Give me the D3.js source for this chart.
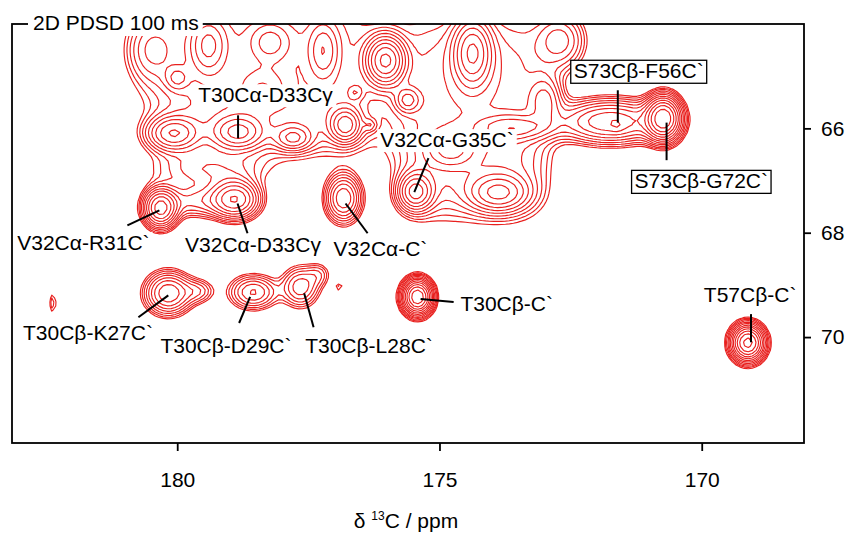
<!DOCTYPE html>
<html>
<head>
<meta charset="utf-8">
<script src="https://cdn.jsdelivr.net/npm/d3@7"></script>
<style>
  body { margin: 0; background: #fff; }
  text { font-family: "Liberation Sans", Arial, sans-serif; }
</style>
</head>
<body>
<div id="chart"></div>
<script>
// cross peaks
// F2 (horizontal) and F1 (vertical) shift in ppm, height in units of the lowest contour,
// half widths in ppm, shape 1 = gaussian, 2 = flat topped (broad overlapped regions)
const peakF2 = [
  180.32, 178.89, 179.60, 179.40, 176.83, 180.17, 179.60, 178.55, 177.65, 177.30,
  176.91, 175.42, 169.12, 182.37, 170.73, 171.74, 171.62,
  178.26, 174.37,
  180.08, 178.84, 180.00, 179.41, 178.23, 180.50, 178.38, 177.21, 176.03, 174.37,
  176.60, 175.61, 176.79, 177.79, 176.32, 173.59, 174.79, 172.69, 172.98,
  175.46, 173.87
];
const peakF1 = [
  67.53, 67.36, 67.40, 66.80, 67.34, 69.16, 69.12, 69.14, 69.04, 68.80,
  69.04, 69.23, 70.11, 69.35, 65.81, 65.87, 65.96,
  64.90, 65.70,
  66.10, 66.08, 65.04, 64.41, 64.35, 64.50, 65.23, 64.51, 64.70, 64.55,
  65.31, 65.46, 65.94, 66.19, 65.94, 65.98, 66.42, 64.32, 65.46,
  67.22, 67.24
];
const peakHeight = [
  12, 10, 3, 2.5, 8, 8, 2.5, 5, 4.5, 1.8,
  1.4, 23, 20, 1.7, 22, 8, 1.3,
  3.5, 3.5,
  7, 7, 3, 6, 4, 3, 3, 5, 18, 12,
  2.5, 5, 8, 5, 2, 5, 4, 4, 4,
  8, 7
];
const peakWidthF2 = [
  0.19, 0.27, 0.45, 0.70, 0.20, 0.26, 0.20, 0.28, 0.22, 0.15,
  0.07, 0.16, 0.18, 0.056, 0.19, 0.60, 0.07,
  1.85, 1.21,
  0.30, 0.30, 0.15, 0.22, 0.25, 0.30, 0.30, 0.18, 0.22, 0.22,
  0.10, 0.15, 0.18, 0.22, 0.08, 0.45, 0.30, 0.30, 0.20,
  0.20, 0.35
];
const peakWidthF1 = [
  0.22, 0.22, 0.20, 0.25, 0.27, 0.24, 0.15, 0.20, 0.24, 0.15,
  0.07, 0.19, 0.20, 0.16, 0.24, 0.25, 0.07,
  1.30, 1.65,
  0.20, 0.20, 0.15, 0.35, 0.25, 0.40, 0.25, 0.35, 0.28, 0.40,
  0.10, 0.15, 0.20, 0.15, 0.08, 0.15, 0.20, 0.35, 0.30,
  0.22, 0.22
];
const peakShape = [
  1, 1, 1, 1, 1, 1, 1, 1, 1, 1,
  1, 1, 1, 1, 1, 1, 1,
  2, 2,
  1, 1, 1, 1, 1, 1, 1, 1, 1, 1,
  1, 1, 1, 1, 1, 1, 1, 1, 1,
  1, 1
];

const xTicks = [180, 175, 170];
const yTicks = [66, 68, 70];

// assignments: label text, where the label sits and the peak it points at (ppm)
const labelText = [
  "T30Cα-D33Cγ", "V32Cα-G35C`", "S73Cβ-F56C`", "S73Cβ-G72C`",
  "V32Cα-R31C`", "V32Cα-D33Cγ", "V32Cα-C`",
  "T30Cβ-K27C`", "T30Cβ-D29C`", "T30Cβ-L28C`", "T30Cβ-C`", "T57Cβ-C`"
];
const labelF2 = [179.60, 176.13, 172.44, 171.28, 183.05, 179.85, 177.02, 182.94, 180.32, 177.56, 174.60, 169.96];
const labelF1 = [65.50, 66.36, 65.04, 67.15, 68.33, 68.37, 68.45, 70.06, 70.31, 70.31, 69.50, 69.33];
const leaderFrom = [
  [178.84, 65.75], [175.21, 66.57], [171.60, 65.27], [170.67, 66.61],
  [180.95, 67.86], [178.66, 68.01], [176.37, 68.01],
  [180.74, 69.62], [178.82, 69.73], [177.40, 69.81], [174.73, 69.33], [169.06, 69.56]
];
const leaderTo = [
  [178.84, 66.19], [175.48, 67.22], [171.60, 65.89], [170.67, 65.89],
  [180.34, 67.57], [178.85, 67.44], [176.79, 67.44],
  [180.17, 69.20], [178.61, 69.23], [177.58, 69.16], [175.36, 69.27], [169.06, 70.10]
];
const boxed = ["S73Cβ-F56C`", "S73Cβ-G72C`"];

const width = 847, height = 535;
const frame = {left: 12, right: 804, top: 24, bottom: 443};
const red = "#e8201e";

const svg = d3.select("#chart").append("svg")
    .attr("width", width)
    .attr("height", height)
    .style("background", "#fff");

const x = d3.scaleLinear().domain([183.15, 168.05]).range([frame.left, frame.right]);
const y = d3.scaleLinear().domain([64.0, 72.03]).range([frame.top, frame.bottom]);

// sample the spectrum on a coarse grid, like the processed 2D data
const nx = 200, ny = 105;
const gx = i => x.domain()[0] + (x.domain()[1] - x.domain()[0]) * i / (nx - 1);
const gy = j => y.domain()[0] + (y.domain()[1] - y.domain()[0]) * j / (ny - 1);
const values = new Float64Array(nx * ny);
for (let j = 0; j < ny; j++) {
  const f1 = gy(j);
  for (let i = 0; i < nx; i++) {
    const f2 = gx(i);
    let v = 0;
    for (let k = 0; k < peakF2.length; k++) {
      const dx = (f2 - peakF2[k]) / peakWidthF2[k];
      const dy = (f1 - peakF1[k]) / peakWidthF1[k];
      const p = peakShape[k];
      const r = Math.pow(dx * dx, p) + Math.pow(dy * dy, p);
      if (r < 40) v += peakHeight[k] * Math.exp(-0.5 * r);
    }
    values[j * nx + i] = v;
  }
}

const levels = d3.range(15).map(k => Math.pow(1.3, k));
const contours = d3.contours().size([nx, ny]).smooth(true).thresholds(levels)(values);

const project = d3.geoTransform({
  point: function(px, py) {
    this.stream.point(x(gx(px - 0.5)), y(gy(py - 0.5)));
  }
});
const path = d3.geoPath(project);

svg.append("clipPath").attr("id", "plot-clip")
  .append("rect")
    .attr("x", frame.left).attr("y", frame.top)
    .attr("width", frame.right - frame.left).attr("height", frame.bottom - frame.top);

svg.append("g")
    .attr("clip-path", "url(#plot-clip)")
    .attr("fill", "none")
    .attr("stroke", red)
    .attr("stroke-width", 1.15)
    .attr("stroke-linejoin", "round")
  .selectAll("path")
  .data(contours)
  .join("path")
    .attr("d", path);

// frame
svg.append("rect")
    .attr("x", frame.left).attr("y", frame.top)
    .attr("width", frame.right - frame.left).attr("height", frame.bottom - frame.top)
    .attr("fill", "none")
    .attr("stroke", "#000")
    .attr("stroke-width", 1.8);

// axes
const xAxis = svg.append("g")
    .attr("transform", `translate(0,${frame.bottom})`)
    .call(d3.axisBottom(x).tickValues(xTicks).tickSize(8).tickPadding(21).tickFormat(d3.format("d")));
const yAxis = svg.append("g")
    .attr("transform", `translate(${frame.right},0)`)
    .call(d3.axisRight(y).tickValues(yTicks).tickSize(7).tickPadding(10).tickFormat(d3.format("d")));
[xAxis, yAxis].forEach(g => {
  g.select(".domain").remove();
  g.selectAll(".tick line").attr("stroke", "#000").attr("stroke-width", 1.8);
  g.selectAll(".tick text").attr("fill", "#000")
    .style("font-size", "21px")
    .style("font-family", "'Liberation Sans', Arial, sans-serif");
});

// x axis title
const xt = svg.append("text")
    .attr("x", 406).attr("y", 528)
    .attr("text-anchor", "middle")
    .style("font-size", "21px");
xt.append("tspan").text("δ ");
xt.append("tspan").text("13").style("font-size", "12px").attr("dy", -8);
xt.append("tspan").text("C / ppm").attr("dy", 8);

// experiment title sits on the top frame line
const tg = svg.append("g");
const title = tg.append("text")
    .attr("x", 33).attr("y", 30)
    .style("font-size", "21px")
    .text("2D PDSD 100 ms");
const tb = title.node().getBBox();
tg.insert("rect", ":first-child")
    .attr("x", tb.x - 5).attr("y", tb.y - 2)
    .attr("width", tb.width + 9).attr("height", tb.height + 4)
    .attr("fill", "#fff");

// assignments
const ann = svg.append("g");
labelText.forEach((t, i) => {
  ann.append("line")
      .attr("x1", x(leaderFrom[i][0])).attr("y1", y(leaderFrom[i][1]))
      .attr("x2", x(leaderTo[i][0])).attr("y2", y(leaderTo[i][1]))
      .attr("stroke", "#000")
      .attr("stroke-width", 2);
  const g = ann.append("g");
  const txt = g.append("text")
      .attr("x", x(labelF2[i])).attr("y", y(labelF1[i]))
      .style("font-size", "21px")
      .attr("fill", "#000")
      .text(t);
  const b = txt.node().getBBox();
  const isBoxed = boxed.includes(t);
  g.insert("rect", ":first-child")
      .attr("x", b.x - 3).attr("y", b.y + 1)
      .attr("width", b.width + 6).attr("height", b.height)
      .attr("fill", "#fff")
      .attr("stroke", isBoxed ? "#000" : "none")
      .attr("stroke-width", 1.3);
});
</script>
</body>
</html>
